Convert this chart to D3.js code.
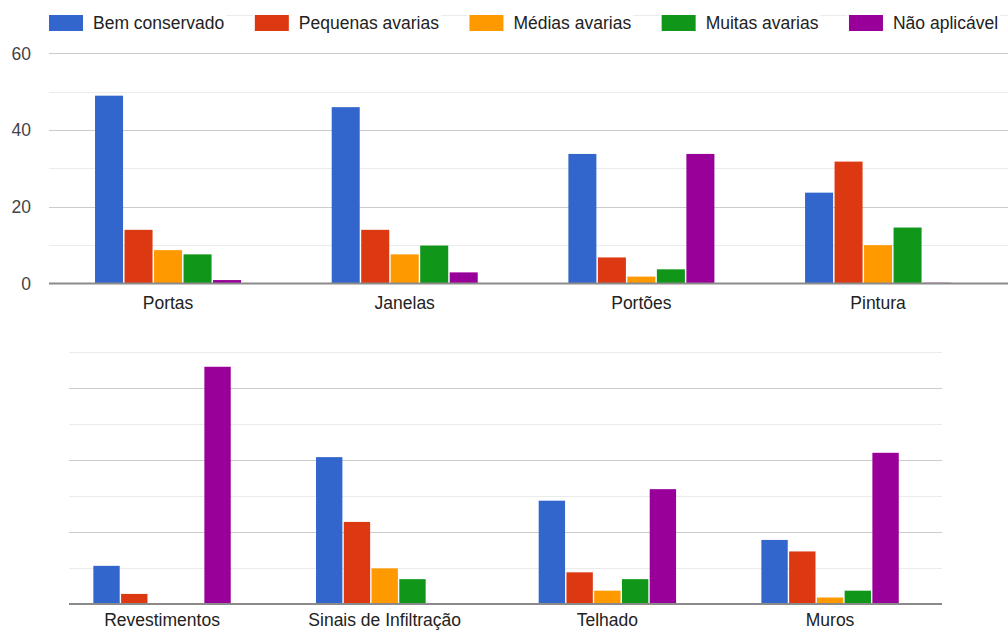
<!DOCTYPE html>
<html>
<head>
<meta charset="utf-8">
<script src="https://cdn.jsdelivr.net/npm/d3@7"></script>
<style>
  html, body { margin: 0; padding: 0; background: #fff; }
  svg { display: block; font-family: "Liberation Sans", Arial, sans-serif; }
</style>
</head>
<body>
<svg id="chart" width="1008" height="630"></svg>
<script>
// Series (legend order) and their colours
const seriesNames = ["Bem conservado", "Pequenas avarias", "Médias avarias", "Muitas avarias", "Não aplicável"];
const seriesColors = ["#3366cc", "#dc3912", "#ff9900", "#109618", "#990099"];

// Upper panel
const topCategories = ["Portas", "Janelas", "Portões", "Pintura"];
const topBemConservado   = [49, 46, 33.8, 23.7];
const topPequenasAvarias = [14, 14, 6.8, 31.8];
const topMediasAvarias   = [8.7, 7.6, 1.8, 10];
const topMuitasAvarias   = [7.6, 9.9, 3.7, 14.6];
const topNaoAplicavel    = [0.9, 2.9, 33.8, 0.2];

// Lower panel
const bottomCategories = ["Revestimentos", "Sinais de Infiltração", "Telhado", "Muros"];
const bottomBemConservado   = [10.6, 40.8, 28.7, 17.8];
const bottomPequenasAvarias = [2.8, 22.8, 8.8, 14.6];
const bottomMediasAvarias   = [0.2, 9.9, 3.7, 1.8];
const bottomMuitasAvarias   = [0.2, 6.9, 6.9, 3.7];
const bottomNaoAplicavel    = [65.9, 0.2, 31.9, 42.0];

// Value axis
const yTickLabels = [0, 20, 40, 60];
const majorTicks = [20, 40, 60];
const minorTicks = [10, 30, 50, 70];
const yMax = 70;

const svg = d3.select("#chart");

function buildRows(categories, cols) {
  return categories.map((c, i) => ({
    category: c,
    values: cols.map((col, s) => ({ series: seriesNames[s], color: seriesColors[s], value: col[i] }))
  }));
}

function drawPanel(opts) {
  const g = svg.append("g");
  const y = d3.scaleLinear().domain([0, yMax]).range([opts.baseY, opts.topY]);
  const x0 = d3.scaleBand().domain(opts.categories).range(opts.bandRange)
    .paddingInner(0.383).paddingOuter(0.1915);
  const x1 = d3.scaleBand().domain(seriesNames).range([0, x0.bandwidth()]).paddingInner(0.05);

  // gridlines
  g.append("g").selectAll("line").data(minorTicks).join("line")
    .attr("x1", opts.gridX[0]).attr("x2", opts.gridX[1])
    .attr("y1", d => Math.round(y(d)) + 0.5).attr("y2", d => Math.round(y(d)) + 0.5)
    .attr("stroke", "#ebebeb").attr("stroke-width", 1.2);
  g.append("g").selectAll("line").data(majorTicks).join("line")
    .attr("x1", opts.gridX[0]).attr("x2", opts.gridX[1])
    .attr("y1", d => Math.round(y(d)) + 0.5).attr("y2", d => Math.round(y(d)) + 0.5)
    .attr("stroke", "#cccccc").attr("stroke-width", 1.2);

  // y labels
  if (opts.showLabels) {
    g.append("g").selectAll("text").data(yTickLabels).join("text")
      .attr("x", 31).attr("y", d => y(d)).attr("dy", "0.36em")
      .attr("text-anchor", "end").attr("font-size", 17.5).attr("fill", "#444")
      .text(d => d);
  }

  // bars
  const rows = buildRows(opts.categories, opts.cols);
  const groups = g.append("g").selectAll("g").data(rows).join("g")
    .attr("transform", d => `translate(${x0(d.category)},0)`);
  groups.selectAll("rect").data(d => d.values).join("rect")
    .attr("x", d => x1(d.series))
    .attr("width", x1.bandwidth())
    .attr("y", d => y(d.value))
    .attr("height", d => y(0) - y(d.value))
    .attr("fill", d => d.color);

  // baseline
  g.append("line")
    .attr("x1", opts.gridX[0]).attr("x2", opts.gridX[1])
    .attr("y1", y(0)).attr("y2", y(0))
    .attr("stroke", "#8a8a8a").attr("stroke-width", 2);

  // category labels
  g.append("g").selectAll("text").data(opts.categories).join("text")
    .attr("x", d => x0(d) + x0.bandwidth() / 2)
    .attr("y", opts.labelY).attr("dy", "0.36em")
    .attr("text-anchor", "middle").attr("font-size", 17.5).attr("fill", "#222")
    .text(d => d);
}

drawPanel({
  categories: topCategories,
  cols: [topBemConservado, topPequenasAvarias, topMediasAvarias, topMuitasAvarias, topNaoAplicavel],
  baseY: 283.5, topY: 283.5 - 70 * (230 / 60),
  bandRange: [49.7, 996.4],
  gridX: [49, 1008],
  labelY: 303,
  showLabels: true
});

drawPanel({
  categories: bottomCategories,
  cols: [bottomBemConservado, bottomPequenasAvarias, bottomMediasAvarias, bottomMuitasAvarias, bottomNaoAplicavel],
  baseY: 604, topY: 604 - 70 * 3.6,
  bandRange: [50.7, 941.4],
  gridX: [69, 942],
  labelY: 620,
  showLabels: false
});

// legend, laid out left to right with measured text widths
const legend = svg.append("g");
let lx = 49;
seriesNames.forEach((name, i) => {
  const item = legend.append("g");
  const txt = item.append("text")
    .attr("x", lx + 44).attr("y", 23).attr("dy", "0.36em")
    .attr("font-size", 17.5).attr("fill", "#222").text(name);
  const w = txt.node().getComputedTextLength();
  item.insert("rect", "text")
    .attr("x", lx - 2).attr("y", 12).attr("width", 44 + w + 4).attr("height", 22)
    .attr("fill", "#fff");
  item.append("rect")
    .attr("x", lx).attr("y", 15).attr("width", 34).attr("height", 16)
    .attr("fill", seriesColors[i]);
  lx += 44 + w + 30.5;
});
</script>
</body>
</html>
